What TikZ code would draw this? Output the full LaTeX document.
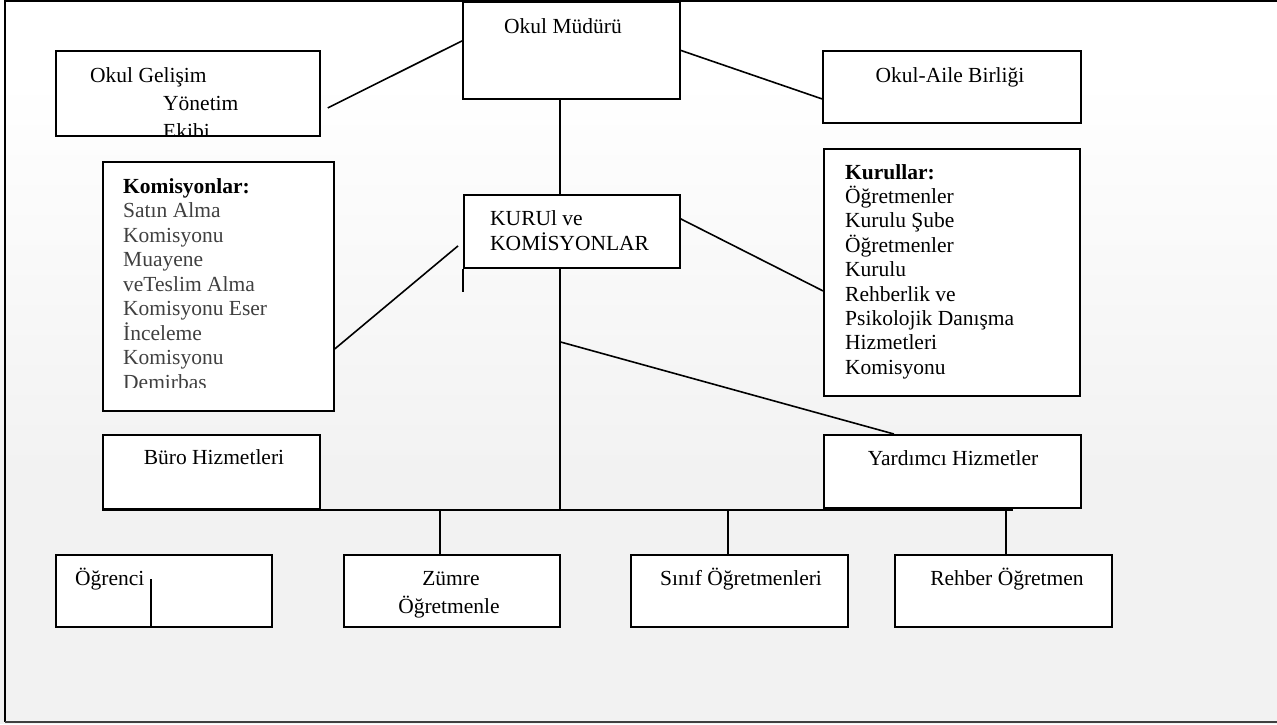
\documentclass[tikz,border=0pt]{standalone}
\usepackage{fontspec}
\usepackage{tikz}
\setmainfont{Liberation Serif}
\definecolor{paper}{HTML}{F2F2F2}
\definecolor{listgray}{HTML}{404040}

\begin{document}
\begin{tikzpicture}[x=1pt,y=-1pt,
  box/.style={rectangle,draw,fill=white,line width=1.8pt,
    anchor=north west,inner sep=0pt},
  lbl/.style={font=\fontsize{21.5}{24.5}\selectfont,inner sep=0pt},
  link/.style={line width=1.6pt}]

  \useasboundingbox (0,0) rectangle (1277,724);

  % page background and frame
  \fill[white] (0,0) rectangle (1277,80);
  \shade[top color=white,bottom color=paper] (0,80) rectangle (1277,470);
  \fill[paper] (0,470) rectangle (1277,724);
  \draw[line width=2.2pt] (1277,1) -- (5,1) -- (5,722);
  \draw[line width=2pt,black!75] (5,722) -- (1277,722);

  % top row
  \node[box,minimum width=217pt,minimum height=97pt] (mudur) at (462,1) {};
  \node[box,minimum width=264pt,minimum height=85pt] (gelisim) at (55,50) {};
  \node[box,minimum width=258pt,minimum height=72pt] (aile) at (822,50) {};

  % middle
  \node[box,minimum width=216pt,minimum height=73pt] (kurul) at (463,194) {};
  \node[box,minimum width=231pt,minimum height=249pt] (komisyon) at (102,161) {};
  \node[box,minimum width=256pt,minimum height=247pt] (kurullar) at (823,148) {};
  \node[box,minimum width=217pt,minimum height=74pt] (buro) at (102,434) {};
  \node[box,minimum width=257pt,minimum height=73pt] (yardimci) at (823,434) {};

  % bottom row
  \node[box,minimum width=216pt,minimum height=72pt] (ogrenci) at (55,554) {};
  \node[box,minimum width=216pt,minimum height=72pt] (zumre) at (343,554) {};
  \node[box,minimum width=217pt,minimum height=72pt] (sinif) at (630,554) {};
  \node[box,minimum width=217pt,minimum height=72pt] (rehber) at (894,554) {};

  % labels
  \node[lbl,anchor=base] (mudurlbl) at (563,33) {Okul Müdürü};
  \node[lbl,anchor=base] (ailelbl) at (950,82) {Okul-Aile Birliği};
  \begin{scope}
    \clip (gelisim.north west) rectangle (gelisim.south east);
    \node[lbl,anchor=base west] (gelisim1) at (90,82) {Okul Gelişim};
    \node[lbl,anchor=base west] (gelisim2) at (163,110) {Yönetim};
    \node[lbl,anchor=base west] (gelisim3) at (163,138) {Ekibi};
  \end{scope}
  \node[lbl,anchor=base west] (kurul1) at (490,225) {KURUl ve};
  \node[lbl,anchor=base west] (kurul2) at (490,250) {KOMİSYONLAR};

  \node[lbl,anchor=base west,font=\fontsize{21.5}{24.5}\selectfont\bfseries]
    (komhead) at (123,193) {Komisyonlar:};
  \begin{scope}
    \clip (komisyon.north west) rectangle (333,387);
    \foreach \t [count=\i from 0] in {Satın Alma,Komisyonu,Muayene,
        veTeslim Alma,Komisyonu Eser,İnceleme,Komisyonu,Demirbas}
      \node[lbl,anchor=base west,text=listgray] (kom\i) at (123,{217.5+24.5*\i}) {\t};
  \end{scope}

  \node[lbl,anchor=base west,font=\fontsize{21.5}{24.5}\selectfont\bfseries]
    (kurhead) at (845,179) {Kurullar:};
  \foreach \t [count=\i from 0] in {Öğretmenler,Kurulu Şube,Öğretmenler,Kurulu,
      Rehberlik ve,Psikolojik Danışma,Hizmetleri,Komisyonu}
    \node[lbl,anchor=base west] (kur\i) at (845,{203.5+24.4*\i}) {\t};

  \node[lbl,anchor=base] (burolbl) at (214,464) {Büro Hizmetleri};
  \node[lbl,anchor=base] (yardimcilbl) at (953,465) {Yardımcı Hizmetler};
  \node[lbl,anchor=base west] (ogrencilbl) at (75,585) {Öğrenci};
  \node[lbl,anchor=base] (zumre1) at (451,585) {Zümre};
  \node[lbl,anchor=base] (zumre2) at (449,613) {Öğretmenle};
  \node[lbl,anchor=base] (siniflbl) at (741,585) {Sınıf Öğretmenleri};
  \node[lbl,anchor=base] (rehberlbl) at (1007,585) {Rehber Öğretmen};

  % connectors
  \draw[link] ([xshift=7pt,yshift=-14.5pt]gelisim.east) -- ([yshift=9.5pt]mudur.west);
  \draw[link] (mudur.east) -- ([yshift=-12pt]aile.west);
  \draw[link] ([xshift=-11.5pt]mudur.south) -- ([xshift=-12pt]kurul.north);
  \draw[link] (kurul.south west) -- ([yshift=-23pt]kurul.south west);
  \draw[link] ([yshift=-62.5pt]komisyon.east) -- ([xshift=-5pt,yshift=-14.5pt]kurul.west);
  \draw[link] ([yshift=12.5pt]kurul.east) -- ([yshift=-18.5pt]kurullar.west);
  \draw[link] ([xshift=-12pt]kurul.south) -- ([xshift=-12pt]kurul.south |- buro.south);
  \draw[link] ([xshift=-12pt,yshift=-73pt]kurul.south) -- ([xshift=-58.5pt]yardimci.north);
  \draw[link] (buro.south west) -- ([xshift=10pt]rehber.north |- buro.south);
  \foreach \b/\s in {zumre/-12pt,sinif/-11.5pt,rehber/2.5pt}
    \draw[link] ([xshift=\s]\b.north) -- ([xshift=\s]\b.north |- buro.south);
  \draw[link] ([xshift=96pt,yshift=-25pt]ogrenci.north west) -- ([xshift=96pt]ogrenci.south west);
\end{tikzpicture}
\end{document}
